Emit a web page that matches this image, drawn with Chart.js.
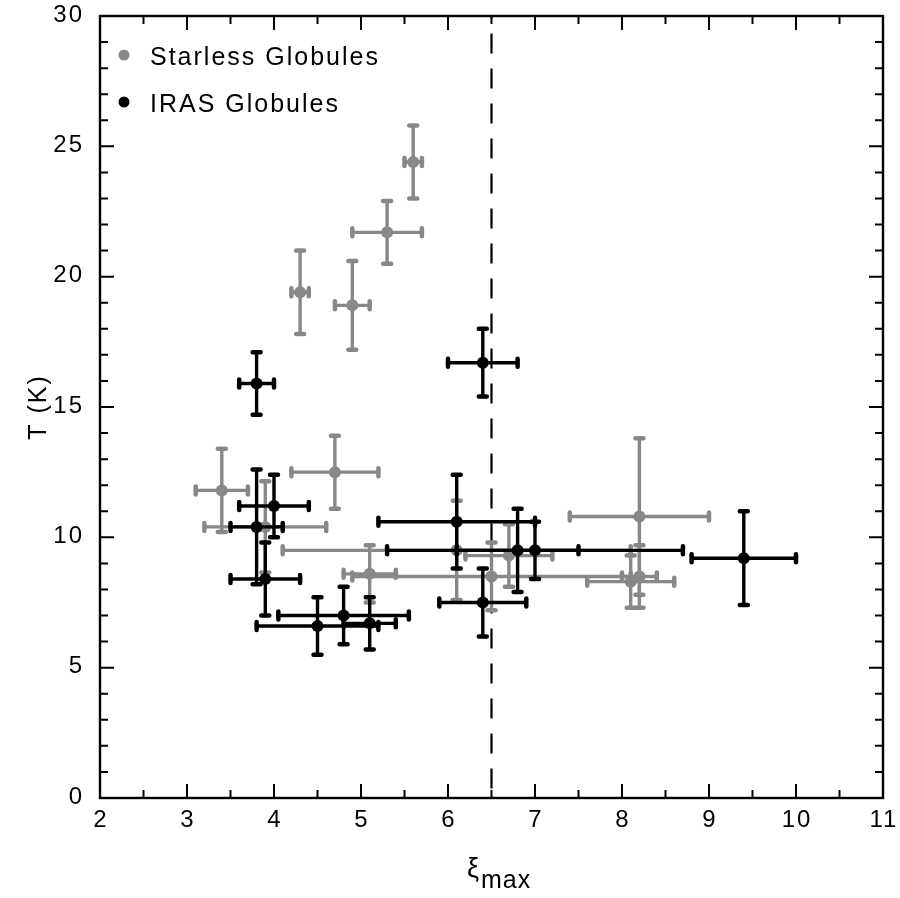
<!DOCTYPE html>
<html>
<head>
<meta charset="utf-8">
<script src="https://cdn.jsdelivr.net/npm/chart.js@4.4.1/dist/chart.umd.min.js"></script>
<style>
  html, body { margin: 0; padding: 0; background: #fff; }
  #wrap { width: 900px; height: 898px; }
</style>
</head>
<body>
<div id="wrap"><canvas id="chart" width="900" height="898"></canvas></div>
<script>
// Starless globules (grey)
const starlessXi    = [5.6, 5.3, 4.3, 4.9, 4.7, 3.4, 3.9, 5.1, 6.1, 6.7, 6.5, 8.2, 8.2, 8.1];
const starlessT     = [24.4, 21.7, 19.4, 18.9, 12.5, 11.8, 10.4, 8.6, 9.5, 9.3, 8.5, 10.8, 8.5, 8.3];
const starlessXiErr = [0.1, 0.4, 0.1, 0.2, 0.5, 0.3, 0.7, 0.3, 2.0, 0.5, 1.6, 0.8, 0.2, 0.5];
const starlessTErr  = [1.4, 1.2, 1.6, 1.7, 1.4, 1.6, 1.75, 1.1, 1.9, 1.2, 1.3, 3.0, 1.2, 1.0];

// IRAS globules (black)
const irasXi    = [3.8, 6.4, 3.8, 4.0, 3.9, 6.1, 6.8, 7.0, 6.4, 9.4, 4.5, 4.8, 5.1];
const irasT     = [15.9, 16.7, 10.4, 11.2, 8.4, 10.6, 9.5, 9.5, 7.5, 9.2, 6.6, 7.0, 6.7];
const irasXiErr = [0.2, 0.4, 0.3, 0.4, 0.4, 0.9, 0.7, 1.7, 0.5, 0.6, 0.7, 0.75, 0.3];
const irasTErr  = [1.2, 1.3, 2.2, 1.2, 1.4, 1.8, 1.6, 1.1, 1.3, 1.8, 1.1, 1.1, 1.0];

const xiRange = [2, 11];
const tRange = [0, 30];
const xiMajorStep = 1, xiMinorStep = 0.5;
const tMajorStep = 5, tMinorStep = 1;
const xiCut = 6.5;

const GREY = '#888888';
const FONT = '"Liberation Sans", Arial, sans-serif';

function toPoints(xs, ys) {
    return xs.map((x, i) => ({ x: x, y: ys[i] }));
}

// error bars drawn just before each dataset's own points
const errorBars = {
    id: 'errorBars',
    beforeDatasetDraw(chart, args) {
        const ds = chart.data.datasets[args.index];
        const { ctx, scales: { x, y } } = chart;
        const cap = 4;
        ctx.save();
        ctx.strokeStyle = ds.backgroundColor;
        ctx.lineCap = 'round';
        ds.data.forEach((p, i) => {
            const px = x.getPixelForValue(p.x), py = y.getPixelForValue(p.y);
            const x0 = x.getPixelForValue(p.x - ds.xErr[i]), x1 = x.getPixelForValue(p.x + ds.xErr[i]);
            const y0 = y.getPixelForValue(p.y - ds.yErr[i]), y1 = y.getPixelForValue(p.y + ds.yErr[i]);
            ctx.lineWidth = 3.4;
            ctx.beginPath();
            ctx.moveTo(x0, py); ctx.lineTo(x1, py);
            ctx.moveTo(px, y0); ctx.lineTo(px, y1);
            ctx.stroke();
            ctx.lineWidth = 4.5;
            ctx.beginPath();
            ctx.moveTo(x0, py - cap); ctx.lineTo(x0, py + cap);
            ctx.moveTo(x1, py - cap); ctx.lineTo(x1, py + cap);
            ctx.moveTo(px - cap, y0); ctx.lineTo(px + cap, y0);
            ctx.moveTo(px - cap, y1); ctx.lineTo(px + cap, y1);
            ctx.stroke();
        });
        ctx.restore();
    }
};

// dashed line at xi = 6.5
const cutLine = {
    id: 'cutLine',
    beforeDatasetsDraw(chart) {
        const { ctx, chartArea: a, scales: { x } } = chart;
        const px = x.getPixelForValue(xiCut);
        ctx.save();
        ctx.strokeStyle = '#000';
        ctx.lineWidth = 2.2;
        ctx.setLineDash([20, 15]);
        ctx.lineDashOffset = 17.5;
        ctx.beginPath();
        ctx.moveTo(px, a.top);
        ctx.lineTo(px, a.bottom);
        ctx.stroke();
        ctx.restore();
    }
};

// box, inward ticks, tick labels, legend and axis titles
const frame = {
    id: 'frame',
    afterDraw(chart) {
        const { ctx, chartArea: a, scales: { x, y } } = chart;
        ctx.save();
        ctx.strokeStyle = '#000';
        ctx.lineWidth = 2.4;
        ctx.strokeRect(a.left, a.top, a.right - a.left, a.bottom - a.top);
        ctx.lineWidth = 2;
        ctx.beginPath();
        for (let v = xiRange[0]; v <= xiRange[1] + 1e-9; v += xiMinorStep) {
            const px = x.getPixelForValue(v);
            const len = Math.abs(v / xiMajorStep - Math.round(v / xiMajorStep)) < 1e-6 ? 14 : 8;
            ctx.moveTo(px, a.bottom); ctx.lineTo(px, a.bottom - len);
            ctx.moveTo(px, a.top); ctx.lineTo(px, a.top + len);
        }
        for (let v = tRange[0]; v <= tRange[1] + 1e-9; v += tMinorStep) {
            const py = y.getPixelForValue(v);
            const len = v % tMajorStep === 0 ? 14 : 8;
            ctx.moveTo(a.left, py); ctx.lineTo(a.left + len, py);
            ctx.moveTo(a.right, py); ctx.lineTo(a.right - len, py);
        }
        ctx.stroke();

        // tick labels from the scales' own ticks
        ctx.fillStyle = '#000';
        ctx.font = '24px ' + FONT;
        ctx.letterSpacing = '2px';
        ctx.textBaseline = 'middle';
        ctx.textAlign = 'center';
        x.ticks.forEach(t => {
            ctx.fillText(String(t.value), x.getPixelForValue(t.value) + 1, a.bottom + 22);
        });
        ctx.textAlign = 'right';
        y.ticks.forEach(t => {
            ctx.fillText(String(t.value), a.left - 16, y.getPixelForValue(t.value) - 1);
        });

        // legend, in dataset order (starless first)
        const items = chart.data.datasets.slice().sort((p, q) => q.order - p.order);
        ctx.font = '25px ' + FONT;
        ctx.textBaseline = 'alphabetic';
        ctx.textAlign = 'left';
        items.forEach((ds, i) => {
            const cy = 55 + i * 47;
            ctx.fillStyle = ds.backgroundColor;
            ctx.beginPath();
            ctx.arc(124, cy, 5.5, 0, Math.PI * 2);
            ctx.fill();
            ctx.fillStyle = '#000';
            ctx.fillText(ds.label, 150, cy + 10);
        });

        // y title
        ctx.save();
        ctx.translate(46, (a.top + a.bottom) / 2);
        ctx.rotate(-Math.PI / 2);
        ctx.textAlign = 'center';
        ctx.textBaseline = 'alphabetic';
        ctx.font = '25px ' + FONT;
        ctx.fillText('T (K)', 0, 0);
        ctx.restore();

        // x title: xi with "max" subscript
        ctx.letterSpacing = '1px';
        ctx.textAlign = 'left';
        ctx.textBaseline = 'alphabetic';
        ctx.font = '27px ' + FONT;
        ctx.fillText('ξ', 467, 877);
        ctx.font = '25px ' + FONT;
        ctx.fillText('max', 481, 888);
        ctx.restore();
    }
};

new Chart(document.getElementById('chart'), {
    type: 'scatter',
    data: {
        datasets: [
            {
                label: 'Starless Globules',
                data: toPoints(starlessXi, starlessT),
                xErr: starlessXiErr,
                yErr: starlessTErr,
                backgroundColor: GREY,
                borderColor: GREY,
                pointRadius: 6,
                borderWidth: 0,
                order: 2
            },
            {
                label: 'IRAS Globules',
                data: toPoints(irasXi, irasT),
                xErr: irasXiErr,
                yErr: irasTErr,
                backgroundColor: '#000000',
                borderColor: '#000000',
                pointRadius: 6,
                borderWidth: 0,
                order: 1
            }
        ]
    },
    options: {
        responsive: false,
        animation: false,
        devicePixelRatio: 1,
        layout: { padding: { left: 0, right: 17, top: 16, bottom: 0 } },
        plugins: { legend: { display: false }, tooltip: { enabled: false } },
        scales: {
            x: {
                type: 'linear',
                min: xiRange[0], max: xiRange[1],
                afterFit: s => { s.height = 100; },
                grid: { display: false, drawTicks: false, tickLength: 0 },
                border: { display: false },
                ticks: { stepSize: xiMajorStep, display: false }
            },
            y: {
                type: 'linear',
                min: tRange[0], max: tRange[1],
                afterFit: s => { s.width = 100; },
                grid: { display: false, drawTicks: false, tickLength: 0 },
                border: { display: false },
                ticks: { stepSize: tMajorStep, display: false }
            }
        }
    },
    plugins: [cutLine, errorBars, frame]
});
</script>
</body>
</html>
